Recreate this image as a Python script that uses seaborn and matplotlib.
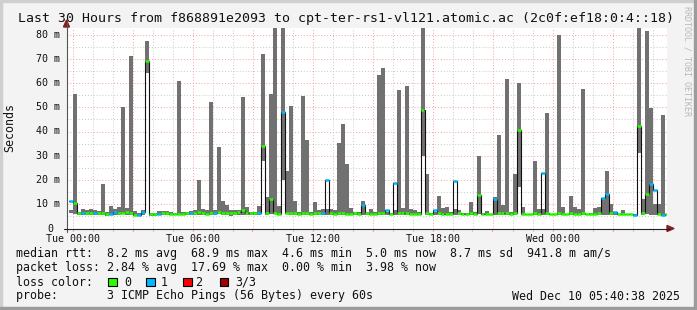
import numpy as np
import pandas as pd
import matplotlib
matplotlib.use("Agg")
import matplotlib.pyplot as plt
import seaborn as sns
from matplotlib.patches import Rectangle, Polygon

# ---------------- data (12-minute steps, hours since Tue 00:00) ----------------
step_start = [round(-0.2 + 0.2 * i, 1) for i in range(150)]

smoke_hi = [
    7.6, 55.3, 6.8, 8.2, 7.5, 8.0, 7.6, 7.4, 18.5, 7.0,
    9.2, 8.0, 9.0, 50.2, 8.4, 71.3, 7.2, 6.5, 7.8, 77.5,
    6.5, 6.4, 7.4, 7.4, 7.4, 7.0, 6.5, 61.0, 6.8, 7.0,
    7.3, 7.6, 19.8, 8.2, 7.5, 52.1, 7.8, 33.5, 11.3, 9.5,
    7.5, 7.7, 7.5, 54.1, 8.8, 7.0, 7.0, 9.2, 71.8, 12.9,
    55.3, 85.0, 9.2, 85.0, 23.6, 50.7, 11.3, 7.0, 54.6, 36.7,
    7.0, 10.8, 7.5, 8.0, 8.0, 8.0, 7.5, 35.3, 43.2, 26.8,
    8.5, 7.0, 7.0, 11.3, 7.0, 8.0, 7.0, 63.5, 66.2, 7.0,
    6.5, 7.5, 57.0, 8.5, 58.7, 8.0, 7.5, 7.0, 85.0, 22.3,
    6.5, 7.0, 13.6, 8.5, 9.0, 7.0, 8.0, 7.5, 6.5, 6.5,
    11.0, 7.0, 30.1, 6.5, 7.1, 6.0, 12.8, 38.4, 9.5, 61.7,
    7.0, 22.3, 60.1, 9.0, 6.0, 6.0, 28.0, 8.2, 8.0, 47.7,
    6.0, 6.0, 80.0, 9.0, 6.0, 13.3, 9.0, 8.0, 57.7, 6.0,
    6.5, 8.5, 9.0, 12.4, 23.9, 10.0, 6.5, 6.0, 7.5, 6.0,
    6.0, 6.0, 85.0, 12.0, 81.6, 49.5, 10.3, 10.3, 46.6, 6.0,
]
smoke_lo = [
    6.2, 6.0, 5.5, 5.6, 5.6, 5.5, 5.5, 5.4, 5.5, 5.2,
    5.5, 5.6, 5.6, 5.8, 5.6, 5.7, 5.4, 5.3, 5.5, 64.2,
    5.2, 5.2, 5.5, 5.5, 5.6, 5.4, 5.5, 5.6, 5.5, 5.5,
    5.6, 5.5, 5.6, 5.4, 5.4, 5.6, 5.4, 5.8, 5.6, 5.6,
    5.3, 5.5, 5.5, 5.6, 5.6, 5.4, 5.4, 5.5, 28.0, 5.6,
    6.0, 6.0, 5.5, 20.0, 5.8, 5.6, 5.6, 5.5, 5.6, 5.6,
    5.5, 5.6, 5.5, 5.5, 5.5, 5.5, 5.5, 5.6, 5.6, 5.6,
    5.5, 5.5, 5.5, 5.6, 5.5, 5.5, 5.5, 5.6, 5.6, 5.5,
    5.5, 5.5, 5.6, 5.5, 5.6, 5.5, 5.5, 5.5, 30.0, 5.6,
    5.5, 5.5, 5.6, 5.5, 5.5, 5.5, 5.5, 5.5, 5.5, 5.5,
    5.6, 5.5, 5.8, 5.5, 5.5, 5.4, 5.6, 5.6, 5.6, 5.6,
    5.5, 5.6, 17.0, 5.6, 5.4, 5.4, 5.6, 5.6, 5.5, 5.6,
    5.4, 5.4, 5.6, 5.6, 5.4, 5.6, 5.6, 5.6, 5.6, 5.4,
    5.5, 5.6, 5.6, 5.6, 5.6, 5.6, 5.5, 5.4, 5.5, 5.4,
    5.4, 5.4, 31.0, 5.6, 5.8, 5.6, 5.6, 5.6, 5.6, 5.4,
]
median = [
    11.3, 10.6, 6.2, 6.3, 6.4, 6.3, 6.2, 6.3, 6.4, 6.1,
    6.0, 6.8, 6.2, 6.3, 6.9, 6.2, 5.6, 5.5, 6.6, 69.0,
    6.0, 5.9, 6.0, 6.3, 6.5, 6.1, 6.0, 6.1, 6.1, 6.2,
    6.3, 6.5, 6.6, 6.3, 6.1, 6.5, 6.3, 6.6, 6.4, 6.3,
    6.2, 6.3, 6.6, 7.8, 6.4, 6.2, 6.2, 6.5, 33.9, 6.3,
    12.0, 6.5, 6.0, 48.0, 6.5, 6.3, 6.2, 6.0, 6.4, 6.3,
    6.0, 6.2, 6.3, 6.5, 19.9, 6.2, 6.0, 6.3, 6.4, 6.1,
    6.0, 6.2, 6.0, 9.5, 6.2, 6.0, 6.1, 6.3, 6.4, 7.8,
    6.0, 18.8, 6.2, 6.3, 6.2, 6.0, 6.1, 6.0, 48.8, 6.3,
    6.0, 7.5, 6.2, 6.1, 6.0, 6.1, 19.5, 6.2, 6.0, 6.0,
    6.2, 6.0, 13.7, 6.0, 6.1, 6.0, 12.0, 6.3, 6.2, 6.4,
    6.0, 6.2, 40.8, 6.0, 6.0, 6.0, 6.2, 6.1, 22.7, 6.3,
    6.0, 6.0, 6.2, 6.1, 6.0, 6.2, 6.1, 6.0, 6.3, 6.0,
    6.0, 6.1, 6.2, 12.4, 14.4, 6.2, 7.0, 6.0, 6.1, 6.0,
    6.0, 5.5, 42.2, 6.2, 14.4, 18.4, 16.0, 6.0, 5.4, 6.0,
]
loss = [
    1, 0, 0, 1, 0, 0, 1, 0, 0, 0,
    1, 1, 0, 0, 0, 0, 0, 1, 1, 0,
    0, 0, 1, 0, 0, 0, 0, 0, 0, 0,
    1, 0, 0, 0, 0, 0, 1, 0, 0, 0,
    0, 0, 0, 0, 0, 0, 0, 1, 0, 0,
    0, 0, 0, 1, 0, 0, 0, 0, 0, 0,
    0, 0, 0, 1, 1, 0, 0, 0, 0, 0,
    0, 0, 0, 1, 0, 0, 0, 0, 0, 1,
    0, 1, 0, 0, 0, 0, 0, 0, 0, 0,
    0, 1, 0, 0, 0, 0, 1, 0, 0, 0,
    0, 0, 0, 0, 0, 0, 1, 0, 0, 0,
    0, 0, 0, 0, 0, 0, 0, 0, 1, 0,
    0, 0, 0, 0, 0, 0, 0, 0, 0, 0,
    0, 0, 0, 1, 1, 0, 1, 0, 0, 0,
    0, 1, 0, 0, 0, 1, 1, 0, 1, 0,
]

loss_colors = ["#26ff00", "#00b8ff", "#ff0000", "#a10000"]
loss_labels = ["0", "1", "2", "3/3"]

y_ticks = [0, 10, 20, 30, 40, 50, 60, 70, 80]
y_tick_labels = ["0 ", "10 m", "20 m", "30 m", "40 m", "50 m", "60 m", "70 m", "80 m"]
x_ticks = [0, 6, 12, 18, 24]
x_tick_labels = ["Tue 00:00", "Tue 06:00", "Tue 12:00", "Tue 18:00", "Wed 00:00"]

title = "Last 30 Hours from f868891e2093 to cpt-ter-rs1-vl121.atomic.ac (2c0f:ef18:0:4::18)"
legend_lines = [
    "median rtt:  8.2 ms avg  68.9 ms max  4.6 ms min  5.0 ms now  8.7 ms sd  941.8 m am/s",
    "packet loss: 2.84 % avg  17.69 % max  0.00 % min  3.98 % now",
    "loss color:",
    "probe:       3 ICMP Echo Pings (56 Bytes) every 60s",
]
stamp = "Wed Dec 10 05:40:38 2025"

# ---------------- figure ----------------
sns.set_theme(style="white")
plt.rcParams['font.family'] = ['DejaVu Sans Mono', 'DejaVu Sans']

W, H = 697, 310
fig = plt.figure(figsize=(W / 100, H / 100), dpi=100)
fig.patch.set_facecolor('#f3f3f3')

def fx(px):
    return px / W

def fy(py):
    return 1 - py / H

X0, X1 = 66.5, 666.5
Y0, Y1 = 228.5, 28.0
PX_PER_MS = 2.425
ymax = (Y0 - Y1) / PX_PER_MS
ax = fig.add_axes([fx(X0), fy(Y0), (X1 - X0) / W, (Y0 - Y1) / H])
ax.set_facecolor('white')
ax.set_xlim(-0.3, 29.7)
ax.set_ylim(0, ymax)
for s in ax.spines.values():
    s.set_visible(False)
ax.set_xticks([])
ax.set_yticks([])

df = pd.DataFrame({"t": step_start, "lo": smoke_lo, "hi": smoke_hi,
                   "med": median, "loss": loss})

# grid
dot = (0, (1, 2))
for v in range(5, 85, 5):
    if v > ymax:
        continue
    major = v % 10 == 0
    ax.axhline(v, color='#f4a0a0' if major else '#c8c8c8', lw=0.7, ls=dot, zorder=1)
for h in range(0, 30):
    major = h % 3 == 0
    col = '#f4a0a0' if major else '#c8c8c8'
    ax.axvline(h, color=col, lw=0.7, ls=dot, zorder=1)
    xx = fx(72.5 + 20 * h)
    fig.add_artist(plt.Line2D([xx, xx], [fy(Y0), fy(Y0 + 2.5)], color=col, lw=0.8))

# smoke
ax.bar(df["t"], np.minimum(df["hi"], ymax + 1) - df["lo"], bottom=df["lo"], width=0.2,
       align='edge', color='#717171', linewidth=0, zorder=2)

# median step line (black)
tt = list(df["t"]) + [df["t"].iloc[-1] + 0.2]
mm = list(df["med"]) + [df["med"].iloc[-1]]
step_df = pd.DataFrame({"t": tt, "m": mm})
sns.lineplot(data=step_df, x="t", y="m", drawstyle='steps-post', color='#111111',
             lw=0.8, ax=ax, zorder=3, estimator=None, sort=False)
ax.set_xlabel("")
ax.set_ylabel("")

# coloured median segments
ax.hlines(df["med"], df["t"], df["t"] + 0.2,
          colors=[loss_colors[l] for l in df["loss"]], lw=1.8, zorder=4)

# axes lines + arrows
fig.add_artist(plt.Line2D([fx(X0), fx(X0)], [fy(Y0 + 3), fy(22)], color='#555555', lw=0.8))
fig.add_artist(plt.Line2D([fx(X0 - 3), fx(670)], [fy(Y0), fy(Y0)], color='#222222', lw=0.8))
fig.add_artist(Polygon([[fx(63.5), fy(27)], [fx(69.5), fy(27)], [fx(66.5), fy(20)]],
                       closed=True, color='#8b1c1c', transform=fig.transFigure))
fig.add_artist(Polygon([[fx(667), fy(Y0 - 3)], [fx(667), fy(Y0 + 3)], [fx(674), fy(Y0)]],
                       closed=True, color='#8b1c1c', transform=fig.transFigure))

# tick labels
for v, lab in zip(y_ticks, y_tick_labels):
    fig.text(fx(59.5), fy(Y0 - v * PX_PER_MS), lab, ha='right', va='center',
             fontsize=7.2, color='#111111')
for h, lab in zip(x_ticks, x_tick_labels):
    fig.text(fx(72.5 + 20 * h), fy(238.5), lab, ha='center', va='center',
             fontsize=7.2, color='#111111')

fig.text(fx(10), fy(128), "Seconds", rotation=90, ha='center', va='center',
         fontsize=8.4, color='#111111')

# title
fig.text(fx(346.5), fy(18.5), title, ha='center', va='center', fontsize=9.5, color='#111111')

# legend
ys = [254, 268, 282, 296]
for yy, line in zip(ys, legend_lines):
    fig.text(fx(16), fy(yy), line, ha='left', va='center', fontsize=8.4, color='#111111')
sq_x = [108, 146, 183, 220]
lab_x = [124, 161, 195, 235]
for c, lab, sx, lx in zip(loss_colors, loss_labels, sq_x, lab_x):
    fig.add_artist(Rectangle((fx(sx), fy(286)), 8.5 / W, 8.5 / H, facecolor=c,
                             edgecolor='black', lw=0.8, transform=fig.transFigure))
    fig.text(fx(lx), fy(282), lab, ha='left', va='center', fontsize=8.4, color='#111111')
fig.text(fx(680), fy(296), stamp, ha='right', va='center', fontsize=8.4, color='#111111')

# vertical credit
fig.text(fx(687), fy(6), "RRDTOOL / TOBI OETIKER", rotation=270, ha='center', va='top',
         fontsize=6.0, color='#b8b8b8')

# frame shading
fig.add_artist(Rectangle((0, fy(2)), 1, 2 / H, color='#cfcfcf', transform=fig.transFigure))
fig.add_artist(Rectangle((0, 0), 2 / W, 1, color='#cfcfcf', transform=fig.transFigure))
fig.add_artist(Rectangle((fx(694), 0), 3 / W, 1, color='#9c9c9c', transform=fig.transFigure))
fig.add_artist(Rectangle((0, 0), 1, 3 / H, color='#9c9c9c', transform=fig.transFigure))

fig.savefig("out.png", dpi=100, facecolor=fig.get_facecolor())
